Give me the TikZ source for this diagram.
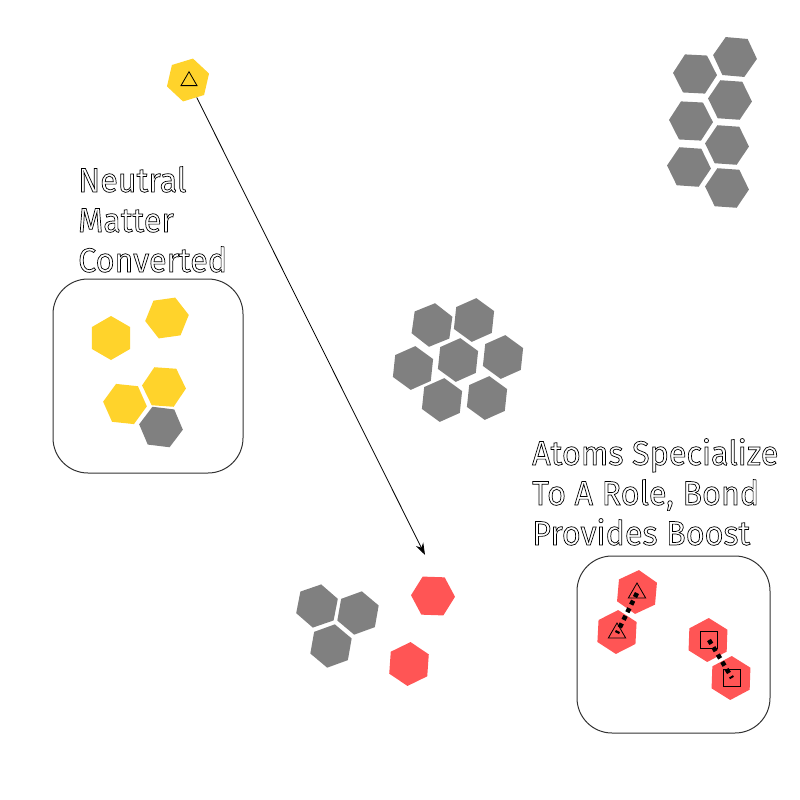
\documentclass[tikz,border=0pt]{standalone}
\usepackage{fontspec}
\setmainfont{Fira Sans}[FakeStretch=0.95]
\usetikzlibrary{shapes.geometric,arrows.meta}

\definecolor{atomgrey}{RGB}{128,128,128}
\definecolor{atomyellow}{RGB}{255,211,43}
\definecolor{atomred}{RGB}{255,85,85}
\newcommand\outlinetext[1]{\special{pdf:literal direct 1 Tr 0.7 w}#1\special{pdf:literal direct 0 Tr}}

\tikzset{
  hex/.style={regular polygon,regular polygon sides=6,minimum size=44pt,inner sep=0pt,shape border rotate=#1},
  hex/.default=0,
  label text/.style={font=\fontsize{34}{40}\selectfont,align=left,anchor=base west,inner sep=0pt},
}

\begin{document}
\begin{tikzpicture}[x=1pt,y=-1pt]
      \useasboundingbox (0,0) rectangle (800,800);

      % Boxes
      \begin{scope}[rounded corners=35pt,line width=1pt,draw=black!80]
        \draw (53,279) rectangle (243,473);
        \draw (577,556) rectangle (770,733);
      \end{scope}

      % Grey hexagons
      \begin{scope}[every node/.style={fill=atomgrey}]
        \node[hex=-5] (t1) at (735,57) {};
        \node[hex=-3] (t2) at (695,74) {};
        \node[hex=-4] (t3) at (730,100) {};
        \node[hex=-3] (t4) at (691,121) {};
        \node[hex=-4] (t5) at (727,145) {};
        \node[hex=-4] (t6) at (689,167) {};
        \node[hex=-4] (t7) at (727,188) {};

        \node[hex=22] (c1) at (432,325) {};
        \node[hex=24] (c2) at (474,320) {};
        \node[hex=24] (c3) at (413,368) {};
        \node[hex=24] (c4) at (458,360) {};
        \node[hex=24] (c5) at (503,357) {};
        \node[hex=24] (c6) at (442,400) {};
        \node[hex=24] (c7) at (487,398) {};

        \node[hex=19] (b1) at (317,606) {};
        \node[hex=20] (b2) at (358,613) {};
        \node[hex=20] (b3) at (331,646) {};

        \node[hex=-7] (n5) at (161,427) {};
      \end{scope}

      % Yellow hexagons
      \begin{scope}[every node/.style={fill=atomyellow}]
        \node[hex=17] (src) at (188,80) {};
        \node[hex=30] (n1) at (111,338) {};
        \node[hex=8] (n2) at (167,318) {};
        \node[hex=-6] (n3) at (125,404) {};
        \node[hex=-4] (n4) at (164,387) {};
      \end{scope}

      % Red hexagons
      \begin{scope}[every node/.style={fill=atomred}]
        \node[hex=-2] (r1) at (433,596) {};
        \node[hex=26] (r2) at (409,664) {};

        \node[hex=25] (s1) at (637,592) {};
        \node[hex=27] (s2) at (617,632) {};
        \node[hex=28] (s3) at (708,640) {};
        \node[hex=28] (s4) at (731,678) {};
      \end{scope}

      % Roles
      \begin{scope}[every node/.style={draw,line width=0.8pt,inner sep=0pt}]
        \node[regular polygon,regular polygon sides=3,minimum size=18.5pt] (srcmark) at (189,81) {};
        \node[regular polygon,regular polygon sides=3,minimum size=20pt] (m1) at (637,593) {};
        \node[regular polygon,regular polygon sides=3,minimum size=20pt] (m2) at (617,633) {};
        \node[rectangle,minimum size=17pt] (m3) at (709,640) {};
        \node[rectangle,minimum size=17pt] (m4) at (732,678) {};
      \end{scope}

      % Bonds
      \begin{scope}[line width=4.5pt,dash pattern=on 4.5pt off 4pt]
        \draw (m1.center) -- (m2.center);
        \draw (m3.center) -- (m4.center);
      \end{scope}

      % Path
      \coordinate (drop) at (425,555);
      \draw[-{Stealth[length=12pt,width=8pt]},line width=0.8pt] (src) -- (drop);

      % Labels
      \node[label text] (neutral) at (78,272) {\outlinetext{Neutral\\Matter\\Converted}};
      \node[label text] (special) at (532,545) {\outlinetext{Atoms Specialize\\To A Role, Bond\\Provides Boost}};

\end{tikzpicture}
\end{document}
